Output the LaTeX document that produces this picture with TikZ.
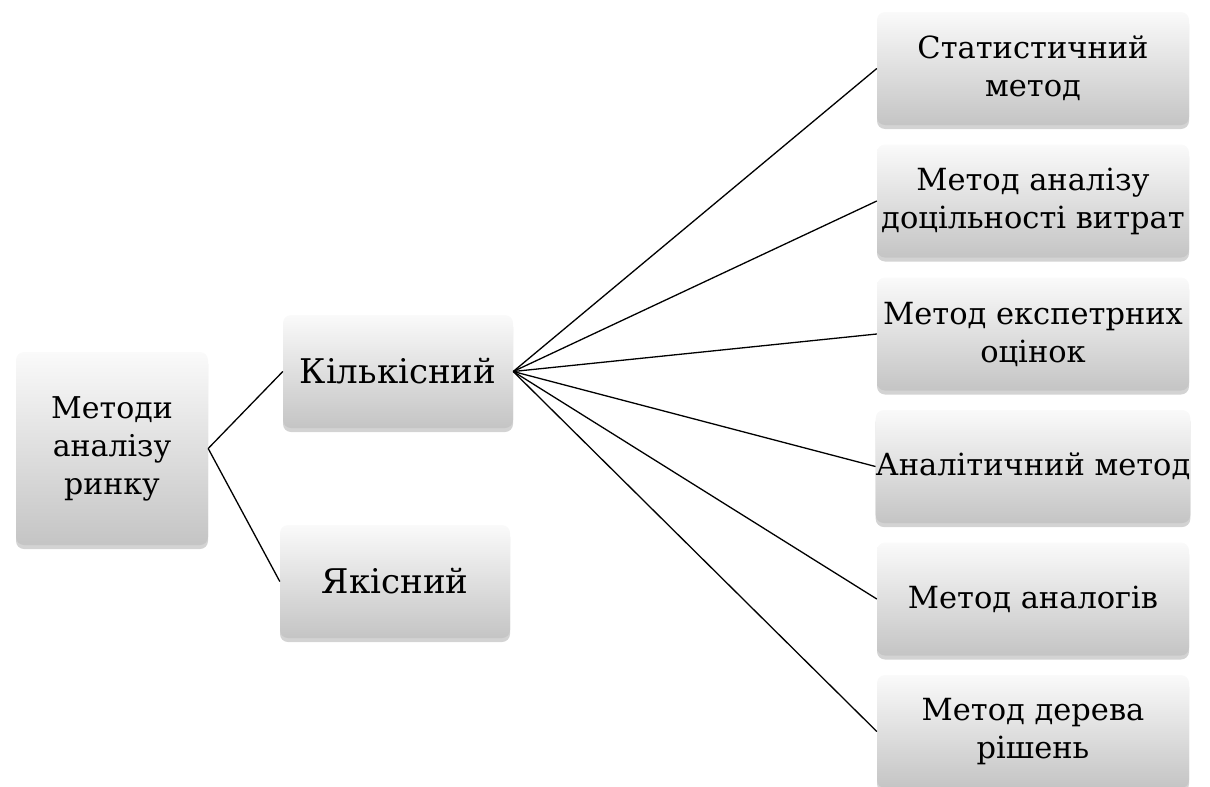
\documentclass[tikz,border=0pt]{standalone}
\usepackage{fontspec}
\setmainfont{DejaVu Serif}
\usetikzlibrary{shadows}

\tikzset{
  box/.style={rectangle, rounded corners=8pt, inner sep=0pt, align=center,
    top color=black!2, bottom color=black!23, draw=none,
    drop shadow={opacity=0.35, shadow xshift=0pt, shadow yshift=-4pt},
    font=\fontsize{30.5}{38}\selectfont},
  link/.style={black, line width=1.3pt}
}

\begin{document}
\begin{tikzpicture}[x=1pt,y=-1pt]
\useasboundingbox (0,0) rectangle (1210,787);
\node[box, minimum width=192pt, minimum height=193pt, font=\fontsize{30}{38}\selectfont] (root) at (112,448.5) {Методи\\аналізу\\ринку};
\node[box, minimum width=230pt, minimum height=113pt, font=\fontsize{34}{38}\selectfont] (quant) at (398,371.5) {Кількісний};
\node[box, minimum width=230pt, minimum height=113pt, font=\fontsize{34}{38}\selectfont] (qual) at (395,581.5) {Якісний};
\node[box, minimum width=312pt, minimum height=113pt] (m1) at (1033,68.5) {Статистичний\\метод};
\node[box, minimum width=312pt, minimum height=113pt] (m2) at (1033,201) {Метод аналізу\\доцільності витрат};
\node[box, minimum width=312pt, minimum height=113pt] (m3) at (1033,334) {Метод експетрних\\оцінок};
\node[box, minimum width=312pt, minimum height=113pt] (m4) at (1033,466.5) {Аналітичний метод};
\node[box, minimum width=312pt, minimum height=113pt] (m5) at (1033,599) {Метод аналогів};
\node[box, minimum width=312pt, minimum height=113pt] (m6) at (1033,731.5) {Метод дерева\\рішень};
\draw[link] (root.east) -- (quant.west);
\draw[link] (root.east) -- (qual.west);
\draw[link] (quant.east) -- (m1.west);
\draw[link] (quant.east) -- (m2.west);
\draw[link] (quant.east) -- (m3.west);
\draw[link] (quant.east) -- (m4.west);
\draw[link] (quant.east) -- (m5.west);
\draw[link] (quant.east) -- (m6.west);
\end{tikzpicture}
\end{document}
